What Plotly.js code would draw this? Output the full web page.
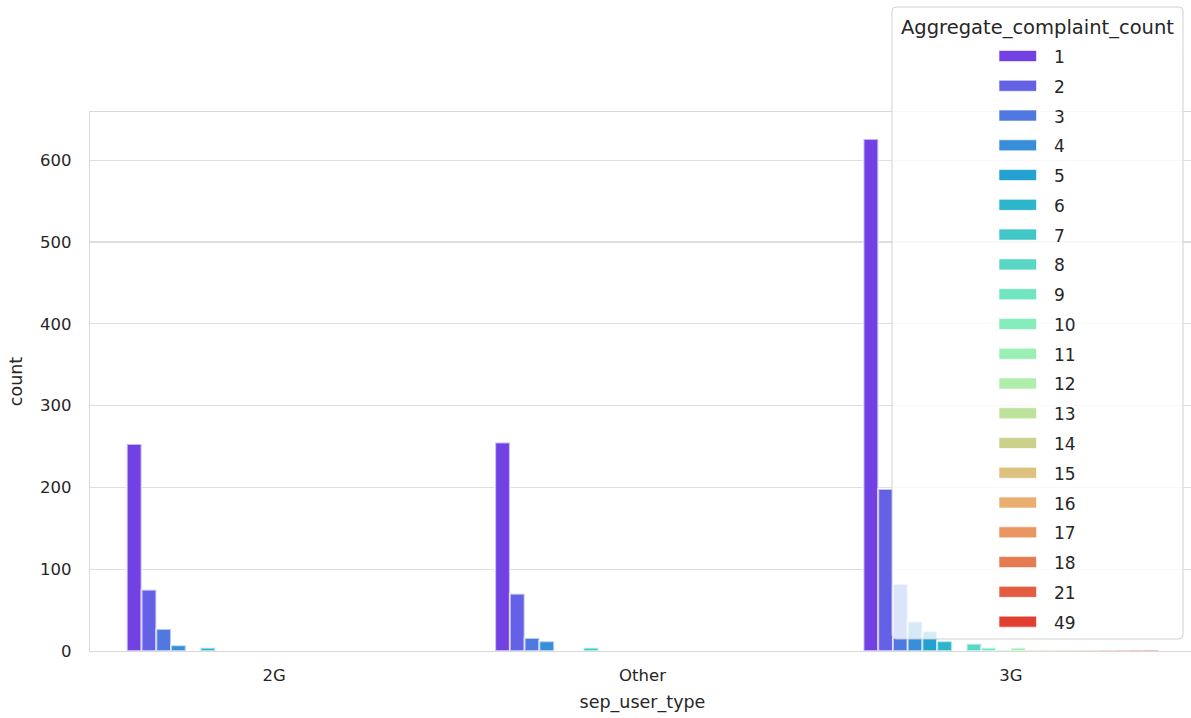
<!DOCTYPE html>
<html>
<head>
<meta charset="utf-8">
<script src="https://cdn.plot.ly/plotly-3.0.1.min.js"></script>
<style>html,body{margin:0;padding:0;background:#fff;overflow:hidden;}#chart{width:1195px;height:718px;}</style>
</head>
<body>
<div id="chart"></div>
<script>
// ---- data ----
const categories = ['2G', 'Other', '3G'];
const hueLabels = ['1','2','3','4','5','6','7','8','9','10','11','12','13','14','15','16','17','18','21','49'];
const count2G    = [253, 75, 27, 7, 0, 4, 0, 0, 0, 0, 0, 0, 0, 0, 0, 0, 0, 0, 0, 0];
const countOther = [255, 70, 16, 12, 0, 0, 4, 0, 0, 0, 0, 0, 0, 0, 0, 0, 0, 0, 0, 0];
const count3G    = [626, 198, 82, 36, 24, 12, 0, 9, 4, 1, 4, 1, 1, 1, 1, 1, 1, 1, 1, 1];
const yTicks = [0, 100, 200, 300, 400, 500, 600];

// ---- palette: matplotlib "rainbow", desaturated 0.75 (seaborn) ----
function rgb2hls(r,g,b){const mx=Math.max(r,g,b),mn=Math.min(r,g,b);const l=(mx+mn)/2;if(mx===mn)return[0,l,0];const d=mx-mn;const s=l<=0.5?d/(mx+mn):d/(2-mx-mn);let h;if(mx===r)h=((g-b)/d)%6;else if(mx===g)h=(b-r)/d+2;else h=(r-g)/d+4;h/=6;if(h<0)h+=1;return[h,l,s];}
function hue2rgb(p,q,t){if(t<0)t+=1;if(t>1)t-=1;if(t<1/6)return p+(q-p)*6*t;if(t<1/2)return q;if(t<2/3)return p+(q-p)*(2/3-t)*6;return p;}
function hls2rgb(h,l,s){if(s===0)return[l,l,l];const q=l<0.5?l*(1+s):l+s-l*s;const p=2*l-q;return[hue2rgb(p,q,h+1/3),hue2rgb(p,q,h),hue2rgb(p,q,h-1/3)];}
function rainbow(x){const c=v=>Math.max(0,Math.min(1,v));return[c(Math.abs(2*x-0.5)),c(Math.sin(Math.PI*x)),c(Math.cos(Math.PI*x/2))];}
const n = hueLabels.length;
const colors = hueLabels.map((_, i) => {
  const [r,g,b] = rainbow((i+1)/(n+1));
  const [h,l,s] = rgb2hls(r,g,b);
  const [r2,g2,b2] = hls2rgb(h,l,s*0.75);
  return 'rgb(' + [r2,g2,b2].map(v=>Math.round(v*255)).join(',') + ')';
});

// ---- geometry helpers (px -> paper) ----
const W = 1195, H = 718, ML = 90, MR = 0, MT = 112, MB = 67;
const PW = W - ML - MR, PH = H - MT - MB;
const px = x => (x - ML) / PW;
const py = y => (H - MB - y) / PH;

const traces = hueLabels.map((lab, i) => ({
  type: 'bar',
  name: lab,
  x: categories,
  y: [count2G[i], countOther[i], count3G[i]],
  marker: {color: colors[i], line: {color: 'rgba(255,255,255,0.6)', width: 2}},
  showlegend: false,
  hoverinfo: 'x+y+name'
}));

// ---- legend drawn as shapes + annotations ----
const shapes = [];
const annotations = [];
const lx0 = 892, lx1 = 1183, ly0 = 7, ly1 = 639, rr = 4;
shapes.push({
  type: 'path', xref: 'paper', yref: 'paper', layer: 'above',
  path: 'M' + px(lx0 + rr) + ',' + py(ly0) +
        ' L' + px(lx1 - rr) + ',' + py(ly0) +
        ' Q' + px(lx1) + ',' + py(ly0) + ' ' + px(lx1) + ',' + py(ly0 + rr) +
        ' L' + px(lx1) + ',' + py(ly1 - rr) +
        ' Q' + px(lx1) + ',' + py(ly1) + ' ' + px(lx1 - rr) + ',' + py(ly1) +
        ' L' + px(lx0 + rr) + ',' + py(ly1) +
        ' Q' + px(lx0) + ',' + py(ly1) + ' ' + px(lx0) + ',' + py(ly1 - rr) +
        ' L' + px(lx0) + ',' + py(ly0 + rr) +
        ' Q' + px(lx0) + ',' + py(ly0) + ' ' + px(lx0 + rr) + ',' + py(ly0) + ' Z',
  fillcolor: 'rgba(255,255,255,0.8)',
  line: {color: 'rgba(204,204,204,0.9)', width: 1}
});
annotations.push({
  xref: 'paper', yref: 'paper', x: px((lx0 + lx1) / 2), y: py(27),
  xanchor: 'center', yanchor: 'middle', showarrow: false,
  text: 'Aggregate_complaint_count',
  font: {family: 'DejaVu Sans, sans-serif', size: 19.5, color: '#262626'}
});
const itemY0 = 56, itemStep = 29.77;
hueLabels.forEach((lab, i) => {
  const cy = itemY0 + i * itemStep;
  shapes.push({
    type: 'rect', xref: 'paper', yref: 'paper', layer: 'above',
    x0: px(999), x1: px(1036.5), y0: py(cy - 5.5), y1: py(cy + 5.5),
    fillcolor: colors[i], line: {color: 'rgba(255,255,255,0.6)', width: 1}
  });
  annotations.push({
    xref: 'paper', yref: 'paper', x: px(1052), y: py(cy + 1),
    xanchor: 'left', yanchor: 'middle', showarrow: false,
    text: lab,
    font: {family: 'DejaVu Sans, sans-serif', size: 17, color: '#262626'}
  });
});

const layout = {
  width: W, height: H,
  margin: {l: ML, r: MR, t: MT, b: MB, pad: 0},
  paper_bgcolor: '#ffffff', plot_bgcolor: '#ffffff',
  barmode: 'group', bargap: 0.2, bargroupgap: 0,
  font: {family: 'DejaVu Sans, sans-serif', color: '#262626', size: 16.5},
  xaxis: {
    type: 'category', range: [-0.5, 2.5], fixedrange: true,
    showgrid: false, zeroline: false,
    showline: true, mirror: true, linecolor: '#d9d9d9', linewidth: 1.3,
    ticks: 'outside', ticklen: 9, tickcolor: 'rgba(0,0,0,0)',
    tickfont: {size: 16.5, color: '#262626'},
    title: {text: 'sep_user_type', font: {size: 17.5, color: '#262626'}, standoff: 11}
  },
  yaxis: {
    range: [0, 659], fixedrange: true,
    tickvals: yTicks, ticktext: yTicks.map(String),
    showgrid: true, gridcolor: '#dedede', gridwidth: 1.3,
    zeroline: false,
    showline: true, mirror: true, linecolor: '#d9d9d9', linewidth: 1.3,
    ticks: 'outside', ticklen: 14, tickcolor: 'rgba(0,0,0,0)',
    tickfont: {size: 16.5, color: '#262626'},
    title: {text: 'count', font: {size: 17.5, color: '#262626'}, standoff: 12}
  },
  shapes: shapes,
  annotations: annotations,
  showlegend: false
};

Plotly.newPlot('chart', traces, layout, {staticPlot: true, displayModeBar: false});
</script>
</body>
</html>
